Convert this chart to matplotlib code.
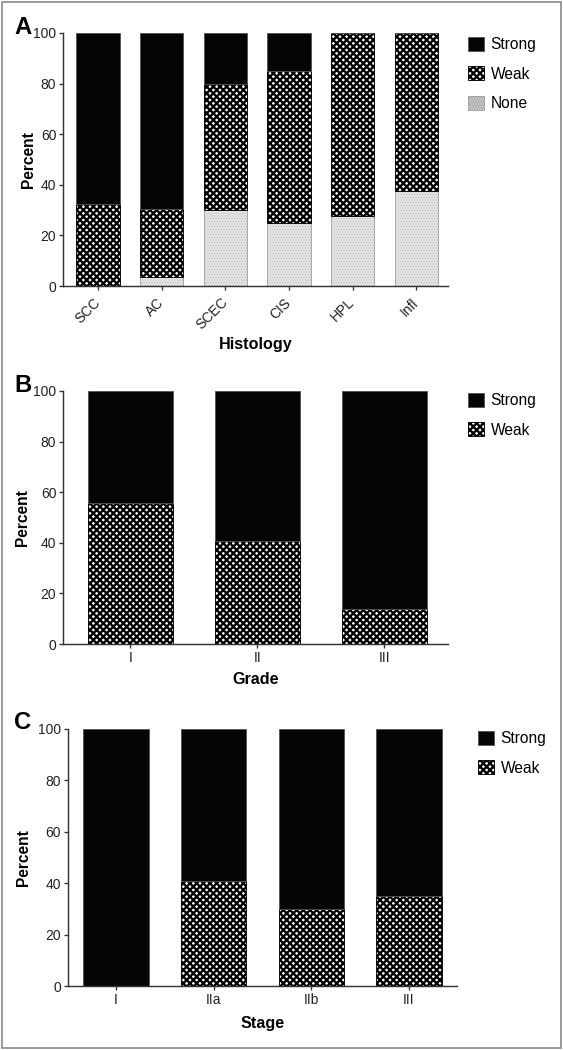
import numpy as np
import matplotlib
matplotlib.use("Agg")
import matplotlib.pyplot as plt
from matplotlib.patches import Patch, Rectangle

# Panel A - histology (percent of cases)
hist_cats = ["SCC", "AC", "SCEC", "CIS", "HPL", "Infl"]
hist_none = [0, 3.5, 30, 25, 27.5, 37.5]
hist_weak = [32.5, 27, 50, 60, 72.5, 62.5]
hist_strong = [67.5, 69.5, 20, 15, 0, 0]

# Panel B - grade
grade_cats = ["I", "II", "III"]
grade_weak = [55.6, 40.7, 13.8]
grade_strong = [44.4, 59.3, 86.2]

# Panel C - stage
stage_cats = ["I", "IIa", "IIb", "III"]
stage_weak = [0, 41, 29.8, 35]
stage_strong = [100, 59, 70.2, 65]

W, H, DPI = 563, 1050, 80
plt.rcParams["font.family"] = ["Liberation Sans", "DejaVu Sans"]
plt.rcParams["hatch.linewidth"] = 2.1

AXC = "#333333"
STRONG = dict(facecolor="#050505", edgecolor="#555555", linewidth=0.8)
WEAK = dict(facecolor="white", edgecolor="black", hatch="xxxx", linewidth=0.8)
NONE = dict(facecolor="#e4e4e4", edgecolor="#a0a0a0", hatch=".....", linewidth=0.8)

fig = plt.figure(figsize=(W / DPI, H / DPI), dpi=DPI)


def px_axes(l, t, r, b):
    return fig.add_axes([l / W, 1 - b / H, (r - l) / W, (b - t) / H])


def thin_hatch(patches, lw):
    for p in patches:
        if hasattr(p, "set_hatch_linewidth"):
            p.set_hatch_linewidth(lw)


def style(ax, cats, xlim, xlabel, lab_y, ylab_x, rot=False):
    ax.set_xlim(*xlim)
    ax.set_ylim(0, 100)
    ax.set_yticks(range(0, 101, 20))
    ax.set_xticks(range(len(cats)))
    for s in ["top", "right"]:
        ax.spines[s].set_visible(False)
    for s in ["left", "bottom"]:
        ax.spines[s].set_color(AXC)
        ax.spines[s].set_linewidth(1.3)
    ax.tick_params(length=4, width=1.2, color=AXC, labelsize=12.5,
                   labelcolor="#222222", pad=2)
    if rot:
        ax.set_xticklabels(cats, rotation=45, ha="right", va="center",
                           rotation_mode="anchor")
        ax.tick_params(axis="x", pad=9)
    else:
        ax.set_xticklabels(cats)
    ax.set_xlabel(xlabel, fontsize=14.5, fontweight="bold")
    ax.xaxis.set_label_coords(0.5, lab_y)
    ax.set_ylabel("Percent", fontsize=14, fontweight="bold")
    ax.yaxis.set_label_coords(ylab_x, 0.5)


def legend(ax, x, y, n):
    h = [Patch(**STRONG), Patch(**WEAK), Patch(**NONE)][:n]
    thin_hatch(h[2:], 0.3)
    ax.legend(h, ["Strong", "Weak", "None"][:n], loc="upper left",
              bbox_to_anchor=(x / W, 1 - y / H), bbox_transform=fig.transFigure,
              frameon=False, borderpad=0, borderaxespad=0, handlelength=1.0,
              handleheight=1.0, handletextpad=0.45, labelspacing=0.9,
              fontsize=14)


# A
axA = px_axes(63, 33, 448, 286)
x = np.arange(len(hist_cats))
bw = 0.68
b1 = axA.bar(x, hist_none, bw, **NONE)
thin_hatch(b1, 0.3)
axA.bar(x, hist_weak, bw, bottom=hist_none, **WEAK)
axA.bar(x, hist_strong, bw, bottom=np.add(hist_none, hist_weak), **STRONG)
style(axA, hist_cats, (-0.55, 5.5), "Histology", -0.2, -0.071, rot=True)
legend(axA, 468, 37, 3)

# B
axB = px_axes(63, 391, 448, 644)
x = np.arange(len(grade_cats))
axB.bar(x, grade_weak, 0.67, **WEAK)
axB.bar(x, grade_strong, 0.67, bottom=grade_weak, **STRONG)
style(axB, grade_cats, (-0.53, 2.5), "Grade", -0.11, -0.086)
legend(axB, 468, 393, 2)

# C
axC = px_axes(67.7, 729, 456.7, 986)
x = np.arange(len(stage_cats))
axC.bar(x, stage_weak, 0.67, **WEAK)
axC.bar(x, stage_strong, 0.67, bottom=stage_weak, **STRONG)
style(axC, stage_cats, (-0.495, 3.49), "Stage", -0.117, -0.094)
legend(axC, 478, 731, 2)

for letter, ybase in [("A", 34), ("B", 392), ("C", 729)]:
    fig.text(14 / W, 1 - ybase / H, letter, fontsize=21.5, fontweight="bold",
             ha="left", va="baseline")

fig.patches.append(Rectangle((1.5 / W, 2 / H), 559 / W, 1046 / H,
                             transform=fig.transFigure, fill=False,
                             edgecolor="#8a8a8a", linewidth=1.5))

fig.savefig("out.png", dpi=DPI)
